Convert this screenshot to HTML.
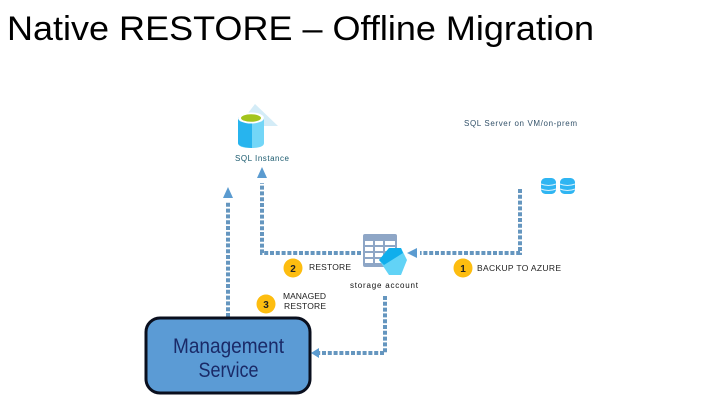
<!DOCTYPE html>
<html><head><meta charset="utf-8"><style>
html,body{margin:0;padding:0;background:#fff}
svg{display:block}
text{font-family:"Liberation Sans",sans-serif}
</style></head><body>
<svg width="720" height="405" viewBox="0 0 720 405" xmlns="http://www.w3.org/2000/svg">
<text x="7" y="40" font-size="34.5" fill="#000" textLength="587" lengthAdjust="spacingAndGlyphs">Native RESTORE – Offline Migration</text>

<!-- SQL instance icon -->
<polygon points="255,104 278,126 238,126" fill="#d4ecf7"/>
<path d="M238,117 V143 Q238,148 251,148 Q264,148 264,143 V117 Z" fill="#73d6f7"/>
<path d="M238,117 V143 Q238,147 252,148 V123 Z" fill="#27b4ee"/>
<ellipse cx="251" cy="118" rx="13" ry="5.500" fill="#fff"/>
<ellipse cx="251" cy="118" rx="10" ry="3.800" fill="#a3c41c"/>
<text x="235" y="161" font-size="8" fill="#1a5a6e" textLength="54" lengthAdjust="spacing">SQL Instance</text>

<text x="464" y="126" font-size="8" fill="#33526a" textLength="113" lengthAdjust="spacing">SQL Server on VM/on-prem</text>

<!-- DB icons -->
<g>
<rect x="541" y="178" width="15" height="16" rx="4.500" fill="#2fb5f2"/>
<path d="M541,184 q7.500,3 15,0 M541,189 q7.500,3 15,0" stroke="#d8f2fd" stroke-width="1" fill="none"/>
<rect x="560" y="178" width="15" height="16" rx="4.500" fill="#2fb5f2"/>
<path d="M560,184 q7.500,3 15,0 M560,189 q7.500,3 15,0" stroke="#d8f2fd" stroke-width="1" fill="none"/>
</g>

<!-- Connectors -->
<g fill="none" stroke="#6596bf" stroke-width="4" stroke-dasharray="4 1.800">
<path d="M520,189 V253 H420"/>
<path d="M361,253 H262 V183"/>
<path d="M228,317 V201"/>
<path d="M385,296 V353 H317"/>
</g>
<g fill="#5b9bd0">
<polygon points="407,253 417,248 417,258"/>
<polygon points="262,167 257,178 267,178"/>
<polygon points="228,187 223,198 233,198"/>
<polygon points="311,353 319,348 319,358"/>
</g>

<!-- Table icon -->
<rect x="363" y="234" width="34" height="33" rx="2" fill="#8ea6c6"/>
<g fill="#fff">
<rect x="365" y="241" width="8" height="4"/><rect x="375" y="241" width="8" height="4"/><rect x="385" y="241" width="10" height="4"/>
<rect x="365" y="247" width="8" height="4"/><rect x="375" y="247" width="8" height="4"/><rect x="385" y="247" width="10" height="4"/>
<rect x="365" y="253" width="8" height="4"/><rect x="375" y="253" width="8" height="4"/>
<rect x="365" y="259" width="8" height="4"/><rect x="375" y="259" width="8" height="4"/>
</g>
<polygon points="389,248 401,248 407,260 401,275 389,275 379,260" fill="#62d3f6"/>
<polygon points="389,248 401,248 403,253 384,265 379,260" fill="#10aeec"/>

<text x="350" y="288" font-size="8" fill="#111" textLength="68" lengthAdjust="spacing">storage account</text>

<!-- Badges -->
<circle cx="293" cy="268" r="9.500" fill="#fdbd10"/>
<text x="293" y="272" font-size="10" font-weight="bold" text-anchor="middle" fill="#222">2</text>
<text x="309" y="270" font-size="8.500" fill="#222" textLength="42" lengthAdjust="spacing">RESTORE</text>

<circle cx="266" cy="304" r="9.500" fill="#fdbd10"/>
<text x="266" y="308" font-size="10" font-weight="bold" text-anchor="middle" fill="#222">3</text>
<text x="283" y="299" font-size="8.500" fill="#222" textLength="43" lengthAdjust="spacing">MANAGED</text>
<text x="284" y="309" font-size="8.500" fill="#222" textLength="42" lengthAdjust="spacing">RESTORE</text>

<circle cx="463" cy="268" r="9.500" fill="#fdbd10"/>
<text x="463" y="272" font-size="10" font-weight="bold" text-anchor="middle" fill="#222">1</text>
<text x="477" y="271" font-size="8.500" fill="#222" textLength="84" lengthAdjust="spacing">BACKUP TO AZURE</text>

<!-- Management service -->
<rect x="146" y="318" width="164" height="75" rx="14" fill="#5b9bd5" stroke="#0a0f1e" stroke-width="3"/>
<text x="228.500" y="353" font-size="21" fill="#1a2a68" text-anchor="middle" textLength="111" lengthAdjust="spacingAndGlyphs">Management</text>
<text x="228.500" y="377" font-size="21" fill="#1a2a68" text-anchor="middle" textLength="60" lengthAdjust="spacingAndGlyphs">Service</text>
</svg>
</body></html>
